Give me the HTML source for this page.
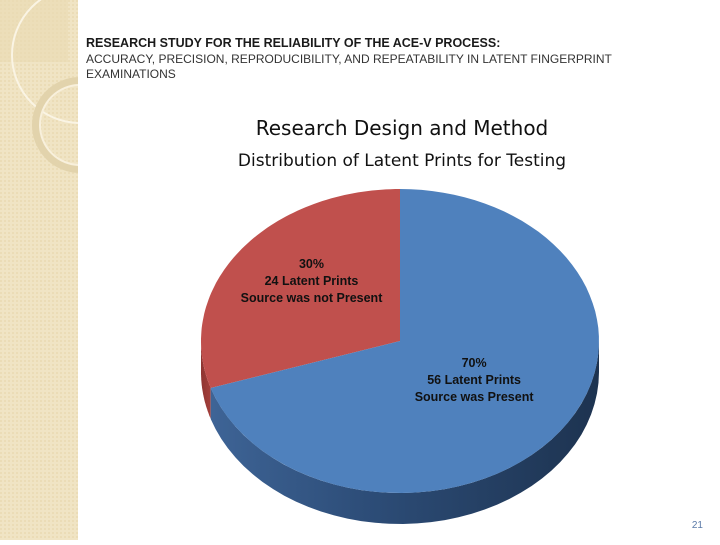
<!DOCTYPE html>
<html><head><meta charset="utf-8"><style>
body{margin:0;width:720px;height:540px;overflow:hidden;background:#fff;font-family:"Liberation Sans",sans-serif}
</style></head><body>
<svg width="720" height="540" viewBox="0 0 720 540" xmlns="http://www.w3.org/2000/svg">
<defs>
<pattern id="tex" width="4" height="4" patternUnits="userSpaceOnUse"><rect width="4" height="4" fill="#f0e4c4"/><rect width="2" height="2" fill="#ebdcb6"/></pattern>
<linearGradient id="blueSide" x1="0" x2="1" y1="0" y2="0"><stop offset="0" stop-color="#3e6496"/><stop offset="0.4" stop-color="#2d4d78"/><stop offset="1" stop-color="#1d3350"/></linearGradient>
<linearGradient id="redSide" x1="0" x2="1"><stop offset="0" stop-color="#8e3532"/><stop offset="1" stop-color="#a43f3b"/></linearGradient>
<clipPath id="strip"><rect x="0" y="0" width="78" height="540"/></clipPath>
</defs>
<g clip-path="url(#strip)">
<rect x="0" y="0" width="78" height="540" fill="url(#tex)"/>
<rect x="0" y="0" width="68" height="62" fill="#e9dab2" opacity="0.6"/>
<circle cx="80" cy="55" r="68" fill="none" stroke="#faf4e4" stroke-width="2"/>
<circle cx="80" cy="125" r="44" fill="none" stroke="#e2d3ac" stroke-width="8"/>
<circle cx="80" cy="125" r="40" fill="none" stroke="#f8f0dc" stroke-width="2"/>
</g>
<text x="86" y="47" font-size="12.5" font-weight="bold" fill="#1a1a1a">RESEARCH STUDY FOR THE RELIABILITY OF THE ACE-V PROCESS:</text>
<text x="86" y="63" font-size="12" fill="#333">ACCURACY, PRECISION, REPRODUCIBILITY, AND REPEATABILITY IN LATENT FINGERPRINT</text>
<text x="86" y="78" font-size="12" fill="#333">EXAMINATIONS</text>
<text x="402" y="135" font-size="20" text-anchor="middle" fill="#111" font-family="DejaVu Sans, sans-serif">Research Design and Method</text>
<text x="402" y="166" font-size="17" text-anchor="middle" fill="#111" font-family="DejaVu Sans, sans-serif">Distribution of Latent Prints for Testing</text>
<g id="pie"></g>
<text x="703" y="528" font-size="10" text-anchor="end" fill="#5a7aa8">21</text>
</svg>
<script>
const categories=["Source was not Present","Source was Present"];
const values=[24,56];
const colors=["#c0504d","#4f81bd"];
const sideFills=["url(#redSide)","url(#blueSide)"];
const cx=400,cy=341,rx=199,ry=152,depth=31;
const NS="http://www.w3.org/2000/svg";
const g=document.getElementById('pie');
const total=values.reduce((a,b)=>a+b,0);
function pt(t,dy){return [cx+rx*Math.cos(t),cy+dy+ry*Math.sin(t)];}
let slices=[];
const redSpan=values[0]/total*2*Math.PI;
slices.push({i:0,s:-Math.PI/2-redSpan,e:-Math.PI/2,r:0.55,dy:-12});
slices.push({i:1,s:-Math.PI/2,e:-Math.PI/2+(values[1]/total)*2*Math.PI,r:0.46,dy:-3});
slices.forEach(sl=>{
  let ranges=[];
  for(let k=-2;k<=2;k++){const lo=Math.max(sl.s,k*2*Math.PI),hi=Math.min(sl.e,k*2*Math.PI+Math.PI);if(hi>lo)ranges.push([lo,hi]);}
  ranges.forEach(r=>{
    const n=40;let d="";
    for(let j=0;j<=n;j++){const t=r[0]+(r[1]-r[0])*j/n;const p=pt(t,0);d+=(j?"L":"M")+p[0].toFixed(1)+","+p[1].toFixed(1);}
    for(let j=n;j>=0;j--){const t=r[0]+(r[1]-r[0])*j/n;const p=pt(t,depth);d+="L"+p[0].toFixed(1)+","+p[1].toFixed(1);}
    const path=document.createElementNS(NS,'path');
    path.setAttribute('d',d+"Z");path.setAttribute('fill',sideFills[sl.i]);
    
    
    g.appendChild(path);
  });
});
slices.forEach(sl=>{
  const n=80;let d="M"+cx+","+cy;
  for(let j=0;j<=n;j++){const t=sl.s+(sl.e-sl.s)*j/n;const p=pt(t,0);d+="L"+p[0].toFixed(1)+","+p[1].toFixed(1);}
  const path=document.createElementNS(NS,'path');
  path.setAttribute('d',d+"Z");path.setAttribute('fill',colors[sl.i]);
  
  
  g.appendChild(path);
  const mid=(sl.s+sl.e)/2;const lp=[cx+rx*sl.r*Math.cos(mid),cy+ry*sl.r*Math.sin(mid)+sl.dy];
  const pct=Math.round(values[sl.i]/total*100)+"%";
  const lines=[pct,values[sl.i]+" Latent Prints",categories[sl.i]];
  const tx=document.createElementNS(NS,'text');
  tx.setAttribute('text-anchor','middle');tx.setAttribute('font-size','12.5');tx.setAttribute('font-weight','bold');tx.setAttribute('fill','#111');
  
  
  lines.forEach((l,k)=>{const ts=document.createElementNS(NS,'tspan');ts.setAttribute('x',lp[0].toFixed(1));ts.setAttribute('y',(lp[1]-12+k*17).toFixed(1));ts.textContent=l;tx.appendChild(ts);});
  g.appendChild(tx);
});
</script>
</body></html>
